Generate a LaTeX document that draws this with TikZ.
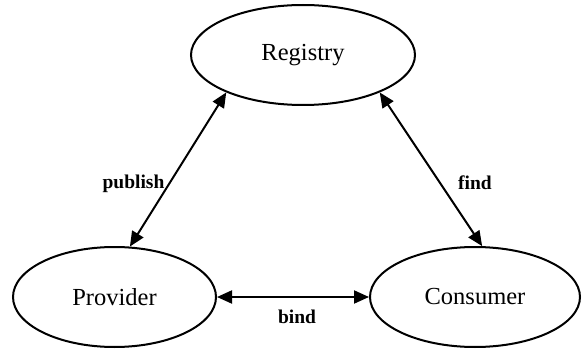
\documentclass[tikz,border=0pt]{standalone}
\usepackage{fontspec}
\setmainfont{Liberation Serif}
\usetikzlibrary{arrows.meta,shapes.geometric}
\begin{document}
\begin{tikzpicture}[x=1pt,y=-1pt,
  role/.style={ellipse,draw,line width=2pt,inner sep=0pt,
    font=\fontsize{24.5}{28}\selectfont},
  link/.style={line width=2pt,{Triangle[length=15pt,width=13pt]}-{Triangle[length=15pt,width=13pt]}},
  tag/.style={font=\bfseries\fontsize{19.5}{22}\selectfont,inner sep=0pt}]
  \useasboundingbox (0,0) rectangle (584,350);
  \node[role,minimum width=224pt,minimum height=100pt] (reg) at (303,55) {Registry};
  \node[role,minimum width=203pt,minimum height=100pt] (prov) at (114.5,297) {Provider};
  \node[role,minimum width=210pt,minimum height=100pt] (cons) at (475,297) {Consumer};
  \draw[link] (reg.206) -- node[tag,pos=0.59,anchor=east,xshift=-4pt] {publish} (prov.73);
  \draw[link] (reg.334) -- node[tag,pos=0.59,anchor=west,xshift=17pt] {find} (cons.82);
  \draw[link] (prov.east) -- node[tag,pos=0.5,anchor=north,xshift=4pt,yshift=-12pt] {bind} (cons.west);
\end{tikzpicture}
\end{document}
